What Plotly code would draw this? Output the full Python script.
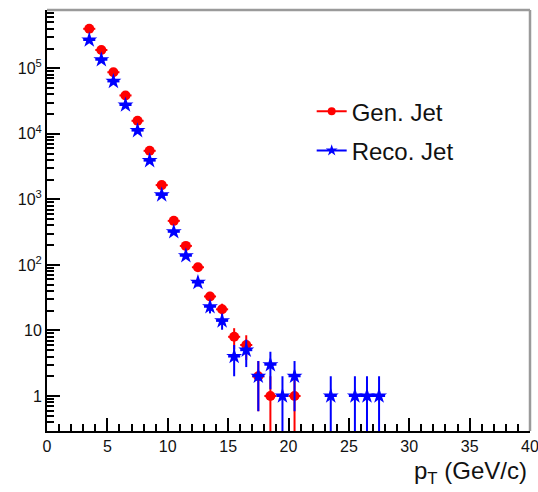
import numpy as np
import plotly.graph_objects as go

# ---- data (bin centres in GeV/c, counts) ----
gen_pt = [3.5, 4.5, 5.5, 6.5, 7.5, 8.5, 9.5, 10.5, 11.5, 12.5, 13.5, 14.5,
          15.5, 16.5, 17.5, 18.5, 20.5]
gen_n = [4.0e5, 1.9e5, 8.7e4, 3.85e4, 1.58e4, 5.5e3, 1.65e3, 470, 195, 92, 33, 21,
         8, 6, 2, 1, 1]

reco_pt = [3.5, 4.5, 5.5, 6.5, 7.5, 8.5, 9.5, 10.5, 11.5, 12.5, 13.5, 14.5,
           15.5, 16.5, 17.5, 18.5, 19.5, 20.5, 23.5, 25.5, 26.5, 27.5]
reco_n = [2.7e5, 1.35e5, 6.3e4, 2.75e4, 1.12e4, 3.9e3, 1.17e3, 320, 138, 54, 23, 14,
          4, 5, 2, 3, 1, 2, 1, 1, 1, 1]

bin_half_width = 0.5

y_tickvals = [1, 10, 100, 1000, 1e4, 1e5]
y_ticktext = ["1", "10", "10<sup>2</sup>", "10<sup>3</sup>", "10<sup>4</sup>", "10<sup>5</sup>"]
x_tickvals = [0, 5, 10, 15, 20, 25, 30, 35, 40]
x_ticktext = ["0", "5", "10", "15", "20", "25", "30", "35", "40"]

FONT = "Liberation Sans, Arial, Helvetica, sans-serif"
RED = "#ff0000"
BLUE = "#0000ff"

fig = go.Figure()

fig.add_trace(go.Scatter(
    x=gen_pt, y=gen_n, mode="markers", name="Gen. Jet", showlegend=False,
    marker=dict(symbol="circle", size=10, color=RED, line=dict(width=0)),
    error_y=dict(type="data", array=list(np.sqrt(gen_n)), color=RED, thickness=2, width=0),
    error_x=dict(type="constant", value=bin_half_width, color=RED, thickness=2, width=0),
    cliponaxis=True,
))
fig.add_trace(go.Scatter(
    x=reco_pt, y=reco_n, mode="markers", name="Reco. Jet", showlegend=False,
    marker=dict(symbol="star", size=12, color=BLUE, line=dict(width=0)),
    error_y=dict(type="data", array=list(np.sqrt(reco_n)), color=BLUE, thickness=2, width=0),
    error_x=dict(type="constant", value=bin_half_width, color=BLUE, thickness=2, width=0),
    cliponaxis=True,
))
# legend entries (ROOT style: marker with error-bar line)
fig.add_trace(go.Scatter(
    x=[None], y=[None], mode="lines+markers", name="Gen. Jet", legendgroup="g",
    line=dict(color=RED, width=2),
    marker=dict(symbol="circle", size=8, color=RED),
))
fig.add_trace(go.Scatter(
    x=[None], y=[None], mode="lines+markers", name="Reco. Jet", legendgroup="r",
    line=dict(color=BLUE, width=2),
    marker=dict(symbol="star", size=9, color=BLUE),
))

minor_y = [m * 10 ** d for d in range(-1, 6) for m in range(2, 10)]

fig.update_layout(
    width=538, height=492,
    margin=dict(l=47, r=8, t=10, b=61, autoexpand=False),
    paper_bgcolor="white", plot_bgcolor="white",
    font=dict(family=FONT, color="black", size=16),
    showlegend=True,
    legend=dict(x=0.548, y=0.812, xanchor="left", yanchor="top",
                font=dict(family=FONT, size=24, color="#111"),
                itemwidth=30,
                bgcolor="rgba(0,0,0,0)", borderwidth=0, tracegroupgap=5),
    xaxis=dict(range=[0, 40], showgrid=False, zeroline=False, automargin=False,
               showline=True, linecolor="black", linewidth=2,
               ticks="inside", ticklen=13, tickwidth=1.5, tickcolor="black",
               tickmode="array", tickvals=x_tickvals, ticktext=x_ticktext,
               ticklabeloverflow="allow",
               tickfont=dict(family=FONT, size=16, color="#111"),
               minor=dict(ticks="inside", ticklen=7, tickwidth=1.5, tickcolor="black",
                          dtick=1, tick0=0, showgrid=False)),
    yaxis=dict(type="log", range=[-0.534, 5.889], showgrid=False, zeroline=False,
               automargin=False,
               showline=True, linecolor="black", linewidth=2,
               ticks="inside", ticklen=13, tickwidth=1.5, tickcolor="black",
               tickmode="array", tickvals=y_tickvals, ticktext=y_ticktext,
               tickfont=dict(family=FONT, size=16, color="#111"),
               minor=dict(ticks="inside", ticklen=7, tickwidth=1.5, tickcolor="black",
                          tickmode="array", tickvals=minor_y, showgrid=False)),
    shapes=[
        dict(type="line", xref="paper", yref="paper", x0=0, x1=1, y0=1, y1=1,
             line=dict(color="#9a9a9a", width=2.5)),
        dict(type="line", xref="paper", yref="paper", x0=1, x1=1, y0=0, y1=1,
             line=dict(color="#9a9a9a", width=2.5)),
    ],
    annotations=[
        dict(text="p<sub>T</sub> (GeV/c)", xref="paper", yref="paper",
             x=0.997, y=-0.098, xanchor="right", yanchor="middle", showarrow=False,
             font=dict(family=FONT, size=24, color="#111")),
    ],
)

fig.write_html("out.html")
